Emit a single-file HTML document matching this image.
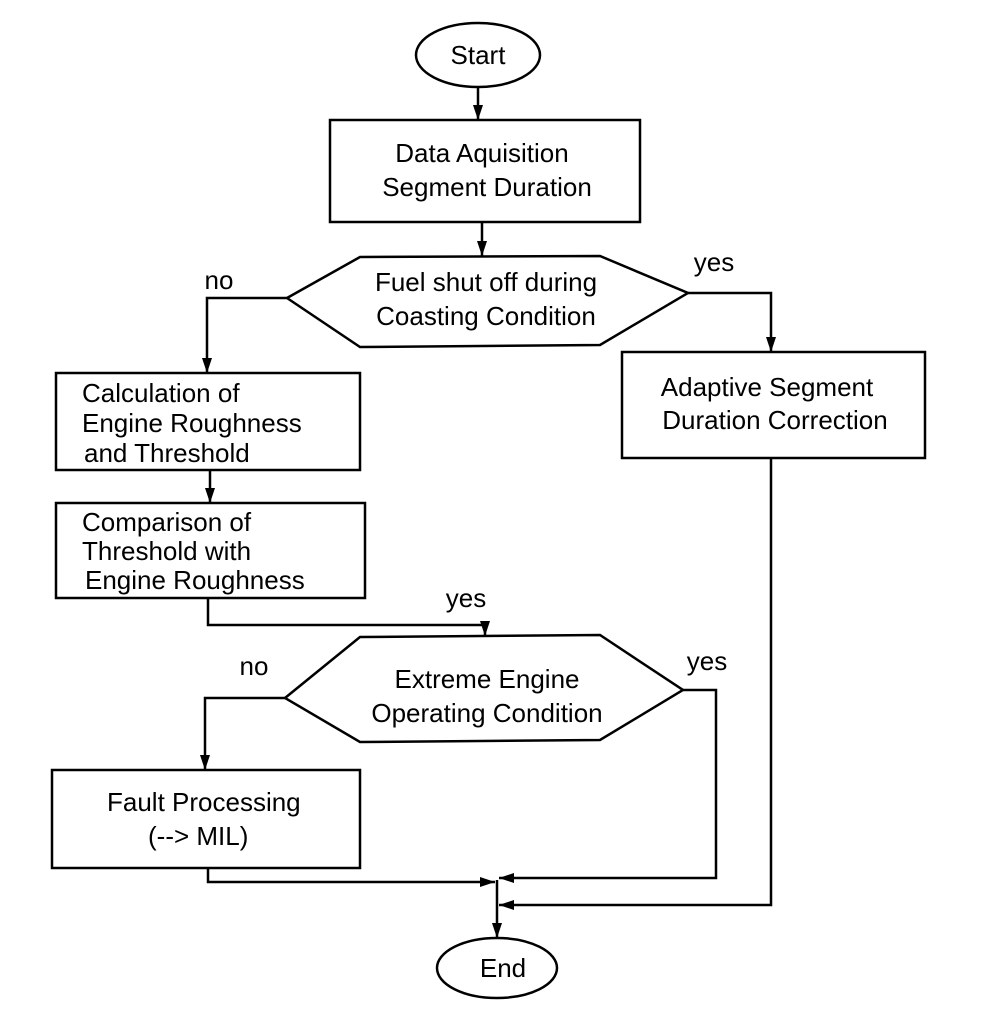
<!DOCTYPE html>
<html><head><style>body{margin:0;background:#fff}</style></head><body>
<svg width="992" height="1024" viewBox="0 0 992 1024" xmlns="http://www.w3.org/2000/svg" font-family="Liberation Sans, Arial, sans-serif" font-size="26" fill="none" stroke="#000" stroke-width="2.5">
<defs><marker id="a" markerWidth="16" markerHeight="12" refX="15" refY="5" orient="auto" markerUnits="userSpaceOnUse"><path d="M0,0 L15,5 L0,10 Z" fill="#000" stroke="none"/></marker></defs>
<ellipse cx="478" cy="55" rx="62" ry="32"/>
<rect x="330" y="120" width="310" height="102"/>
<polygon points="287,298 360,257 600,256 688,293 600,345 360,347"/>
<rect x="56" y="373" width="304" height="97"/>
<rect x="56" y="503" width="309" height="95"/>
<rect x="622" y="352" width="303" height="106"/>
<polygon points="285,698 360,637 600,635 683,690 600,740 360,742"/>
<rect x="52" y="770" width="308" height="98"/>
<ellipse cx="497" cy="968" rx="60" ry="30"/>
<g marker-end="url(#a)">
<path d="M478,87 V120"/><path d="M482,222 V256"/>
<path d="M287,298 H207 V373"/><path d="M688,293 H771 V352"/>
<path d="M210,470 V503"/>
<path d="M208,598 V625 H485 V636"/>
<path d="M285,698 H205 V770"/>
<path d="M497,880 V938"/>
<path d="M208,868 V882 H495"/>
<path d="M683,690 H716 V878 H499"/>
<path d="M771,458 V905 H499"/>
</g>
<g fill="#000" stroke="none" text-anchor="middle">
<text x="478" y="64">Start</text>
<text x="482" y="162">Data Aquisition</text><text x="487" y="196">Segment Duration</text>
<text x="486" y="291">Fuel shut off during</text><text x="486" y="325">Coasting Condition</text>
<text x="219" y="289">no</text><text x="714" y="271">yes</text>
<text x="767" y="396">Adaptive Segment</text><text x="775" y="429">Duration Correction</text>
<g text-anchor="start">
<text x="82" y="402">Calculation of</text>
<text x="82" y="432">Engine Roughness</text><text x="84" y="462">and Threshold</text>
<text x="82" y="531">Comparison of</text><text x="82" y="560">Threshold with</text><text x="85" y="589">Engine Roughness</text>
<text x="107" y="811">Fault Processing</text><text x="148" y="845">(--&gt; MIL)</text>
</g>
<text x="466" y="607">yes</text><text x="254" y="675">no</text><text x="707" y="670">yes</text>
<text x="487" y="688">Extreme Engine</text><text x="487" y="722">Operating Condition</text>
<text x="503" y="977">End</text>
</g>
</svg>
</body></html>
